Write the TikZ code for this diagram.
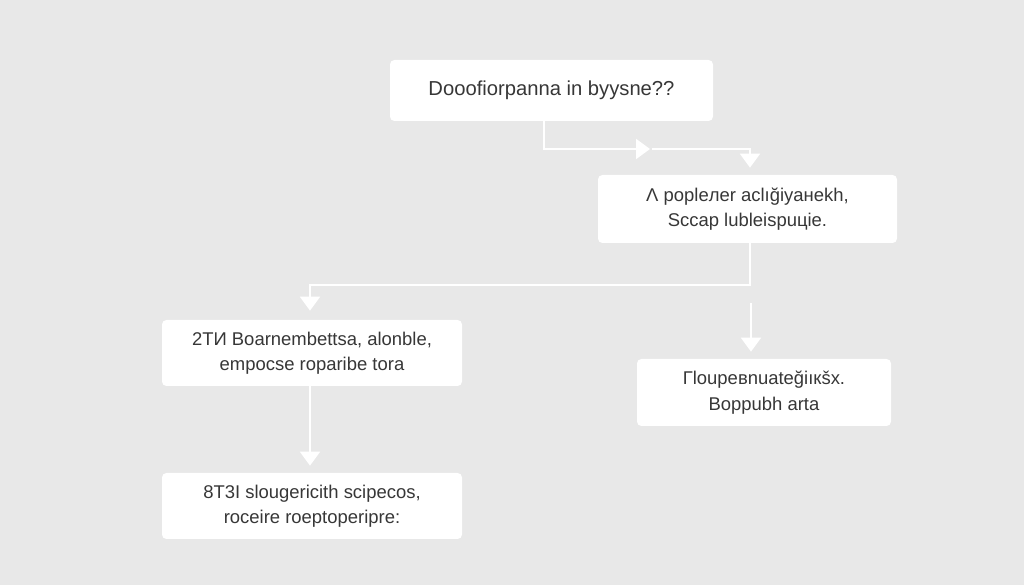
\documentclass[tikz,border=0pt]{standalone}
\usepackage{fontspec}
\setmainfont{Liberation Sans}
\usetikzlibrary{arrows.meta}
\definecolor{bgc}{RGB}{232,232,232}
\definecolor{txt}{RGB}{55,55,55}
\tikzset{
  box/.style={fill=white, rounded corners=2.5pt, align=center, text=txt,
    font=\fontsize{10.5}{14.5}\selectfont, inner sep=0pt},
  link/.style={draw=white, line width=1.2pt,
    -{Triangle[width=0.4cm,length=0.28cm]}}
}
\begin{document}
\begin{tikzpicture}
        % flow of five boxes
        \fill[bgc] (0,0) rectangle (20.48,-11.7);
        \useasboundingbox (0,0) rectangle (20.48,-11.7);

        \node[box, minimum width=6.46cm, minimum height=1.22cm, font=\fontsize{11.5}{14}\selectfont] (ask) at (11.03,-1.81) {Dooofiorpanna in byysne??};
        \node[box, minimum width=5.98cm, minimum height=1.36cm] (pop) at (14.95,-4.18) {Λ popleлer aclığiyaнekh,\\Sccap lubleispuцie.};
        \node[box, minimum width=6.0cm, minimum height=1.32cm] (boar) at (6.24,-7.06) {2TИ Boarnembettsa, alonble,\\empocse roparibe tora};
        \node[box, minimum width=5.08cm, minimum height=1.34cm] (loup) at (15.28,-7.85) {Гloupeвnuateğiıкšx.\\Boppubh arta};
        \node[box, minimum width=6.0cm, minimum height=1.32cm] (slou) at (6.24,-10.12) {8T3I slougericith scipecos,\\roceire roeptoperipre:};

        \coordinate (turn) at (13.0,-2.98);
        \coordinate (drop) at (15.02,-6.06);

        \draw[link] (ask.south -| 10.88,0) |- (turn);
        \draw[link, shorten >=0.14cm] (13.04,-2.98) -| (pop.north -| 15.0,0);
        \draw[link, shorten >=0.18cm] (pop.south -| 15.0,0) |- (6.2,-5.7) -- (boar.north -| 6.2,0);
        \draw[link, shorten >=0.14cm] (drop) -- (loup.north -| drop);
        \draw[link, shorten >=0.14cm] (boar.south -| 6.2,0) -- (slou.north -| 6.2,0);
    \end{tikzpicture}
\end{document}
